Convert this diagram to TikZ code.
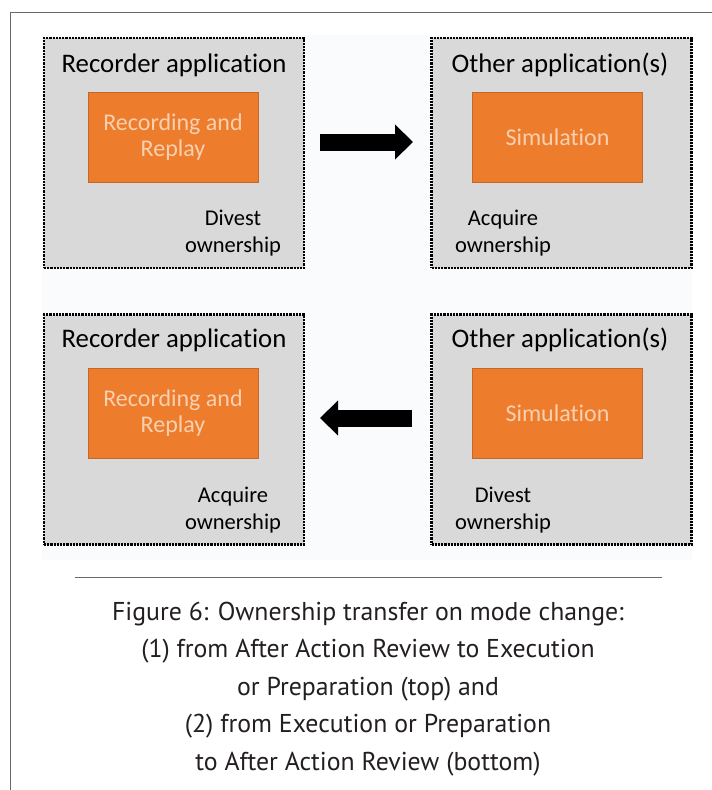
\documentclass[tikz,border=0pt]{standalone}
\usepackage{fontspec}
\setmainfont{Carlito}[Ligatures=NoCommon]
\newfontfamily\capfont{PT Sans}
\usepackage{tikz}
\tikzset{
	>=latex,
}
\usetikzlibrary{arrows.meta}
\definecolor{appgray}{RGB}{217,217,217}
\definecolor{modorange}{RGB}{237,125,45}
\definecolor{modedge}{RGB}{196,104,40}
\definecolor{modtext}{RGB}{248,208,176}
\definecolor{framegray}{RGB}{105,105,105}
\definecolor{paper}{RGB}{250,251,253}
\definecolor{captext}{RGB}{35,31,32}
\tikzstyle{app}=[draw,densely dotted,line width=2.2pt,fill=appgray,minimum width=260pt,minimum height=230pt,inner sep=0pt]
\tikzstyle{module}=[draw=modedge,fill=modorange,line width=1pt,minimum width=170pt,minimum height=90pt,inner sep=0pt,text=modtext,font=\fontsize{24}{26}\selectfont,align=center]
\tikzstyle{title}=[anchor=base,inner sep=0pt,font=\fontsize{26.8}{30}\selectfont]
\tikzstyle{own}=[anchor=base,inner sep=0pt,font=\fontsize{22.5}{27}\selectfont,align=center]
\tikzstyle{bigarrow}=[line width=17pt,-{Triangle[length=18pt,width=34pt]}]

\begin{document}
\begin{tikzpicture}[x=1pt,y=-1pt]
      \useasboundingbox (0,0) rectangle (712,790);
      \fill[paper] (42,35) rectangle (692,560);
      \draw[framegray,line width=1pt] (712,12)--(10.5,12)--(10.5,790);
      % top: after action review -> execution
      \node[app] (rec1) at (174,153) {};
      \node[app] (oth1) at (561.5,153) {};
      \node[module] (rr1) at (173,137) {Recording and\\Replay};
      \node[module] (sim1) at (557.5,137) {Simulation};
      \node[title] (rt1) at (174,72) {Recorder application};
      \node[title] (ot1) at (560,72) {Other application(s)};
      \node[own] (div1) at (233,252) {Divest\\ownership};
      \node[own] (acq1) at (503,252) {Acquire\\ownership};
      \coordinate (a1) at (320,142);
      \coordinate (b1) at (413,142);
      \draw[bigarrow] (a1)--(b1);
      % bottom: execution -> after action review
      \node[app] (rec2) at (174,429.5) {};
      \node[app] (oth2) at (561.5,429.5) {};
      \node[module] (rr2) at (173,413.5) {Recording and\\Replay};
      \node[module] (sim2) at (557.5,413.5) {Simulation};
      \node[title] (rt2) at (174,347) {Recorder application};
      \node[title] (ot2) at (560,347) {Other application(s)};
      \node[own] (acq2) at (233,529) {Acquire\\ownership};
      \node[own] (div2) at (503,529) {Divest\\ownership};
      \coordinate (a2) at (412,418);
      \coordinate (b2) at (320,418);
      \draw[bigarrow] (a2)--(b2);
      % caption
      \draw[framegray,line width=0.8pt] (75,577)--(662,577);
      \node[anchor=base,inner sep=0pt,align=center,text=captext,font=\capfont\fontsize{25.8}{37.5}\selectfont] (cap) at (368,770)
        {Figure 6: Ownership transfer on mode change:\\(1) from After Action Review to Execution\\or Preparation (top) and\\(2) from Execution or Preparation\\to After Action Review (bottom)};
    \end{tikzpicture}
\end{document}
